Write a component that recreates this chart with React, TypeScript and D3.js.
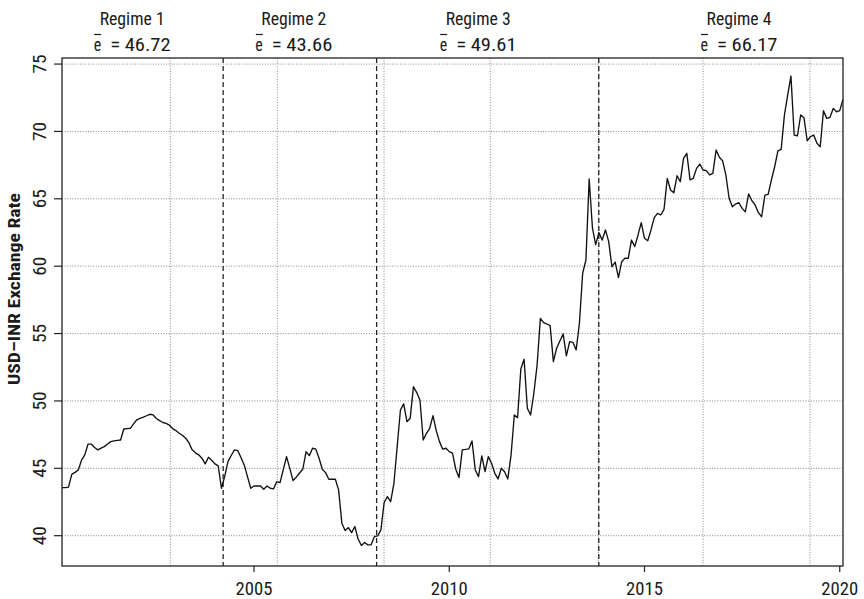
import React from "react";
import * as d3 from "d3";

// Month-end USD-INR exchange rate, monthly from Feb 2000 to Feb 2020
const startYear = 2000;
const startMonth = 2; // February
const usdInr: number[] = [
  43.57, 43.57, 43.6, 44.55, 44.7, 44.88, 45.6, 46.0, 46.8, 46.8, 46.55,
  46.37, 46.5, 46.61, 46.8, 46.98, 47.03, 47.07, 47.1, 47.92, 47.95, 47.97,
  48.3, 48.6, 48.7, 48.79, 48.9, 49.01, 48.96, 48.7, 48.54, 48.4, 48.34,
  48.2, 47.95, 47.8, 47.6, 47.45, 47.23, 46.9, 46.37, 46.15, 46.0, 45.75,
  45.33, 45.82, 45.6, 45.33, 45.18, 43.52, 44.4, 45.5, 45.95, 46.37, 46.31,
  45.8, 45.25, 44.38, 43.52, 43.69, 43.69, 43.69, 43.45, 43.69, 43.52, 43.47,
  44.01, 43.94, 44.9, 45.87, 45.0, 44.09, 44.34, 44.65, 44.93, 46.24, 45.94,
  46.49, 46.42, 45.75, 44.93, 44.68, 44.19, 44.19, 44.19, 43.4, 40.93, 40.38,
  40.6, 40.23, 40.68, 39.75, 39.27, 39.49, 39.32, 39.32, 39.93, 39.98, 40.43,
  42.46, 42.9, 42.53, 43.89, 46.61, 49.33, 49.78, 48.46, 48.72, 51.06, 50.62,
  50.07, 47.1, 47.6, 47.97, 48.91, 47.8, 46.98, 46.42, 46.49, 46.24, 46.12,
  44.93, 44.31, 46.37, 46.4, 46.44, 47.03, 44.88, 44.38, 45.92, 44.75, 45.87,
  45.38, 44.63, 44.21, 45.0, 44.75, 44.21, 46.0, 48.96, 48.76, 52.37, 53.09,
  49.46, 48.96, 50.57, 52.67, 56.13, 55.81, 55.71, 55.59, 52.92, 53.91, 54.45,
  54.97, 53.34, 54.4, 54.35, 53.78, 55.76, 59.47, 60.46, 66.47, 62.85, 61.6,
  62.49, 61.94, 62.69, 61.82, 59.96, 60.3, 59.15, 60.33, 60.6, 60.58, 61.94,
  61.45, 62.3, 63.23, 62.07, 61.89, 62.69, 63.6, 63.92, 63.8, 64.22, 66.52,
  65.65, 65.45, 66.71, 66.27, 68.0, 68.38, 66.4, 66.52, 67.26, 67.58, 67.14,
  67.09, 66.77, 66.89, 68.62, 68.08, 67.83, 66.77, 65.04, 64.41, 64.61, 64.71,
  64.29, 64.04, 65.36, 64.86, 64.54, 63.97, 63.67, 65.28, 65.33, 66.4, 67.38,
  68.55, 68.67, 71.22, 72.7, 74.11, 69.73, 69.68, 71.22, 71.02, 69.31, 69.61,
  69.73, 69.12, 68.87, 71.54, 70.97, 71.05, 71.71, 71.46, 71.54, 72.38,
];

const xTicks = [2005, 2010, 2015, 2020];
const yTicks = [40, 45, 50, 55, 60, 65, 70, 75];
const gridYears = [2002.856, 2005.597, 2008.33, 2011.05, 2013.82, 2016.5, 2019.24];
const regimeBreaks = [2004.21, 2008.14, 2013.83];
const regimeNames = ["Regime 1", "Regime 2", "Regime 3", "Regime 4"];
const regimeMeans = ["46.72", "43.66", "49.61", "66.17"];
const regimeLabelYears = [2001.88, 2006.02, 2010.74, 2017.42];

const W = 864;
const H = 599;
const M = { left: 62, right: 843, top: 58, bottom: 566 };
const FONT = "'Liberation Sans Narrow', 'Roboto Condensed', 'DejaVu Sans Condensed', 'Liberation Sans', sans-serif";
const INK = "#1a1a1a";

export default function App() {
  const t0 = startYear + (startMonth - 1) / 12;
  const times = usdInr.map((_, i) => t0 + i / 12);
  const x = d3.scaleLinear().domain([t0, times[times.length - 1]]).range([M.left, M.right]);
  const y = d3.scaleLinear().domain([37.75, 75.45]).range([M.bottom, M.top]);
  const line = d3
    .line<number>()
    .x((_, i) => x(times[i]))
    .y((d) => y(d));

  return (
    <div style={{ position: "absolute", left: 0, top: 0 }}>
      <svg width={W} height={H} style={{ display: "block", background: "#fff" }} fontFamily={FONT}>
        {/* grid */}
        {yTicks.map((v) => (
          <line key={"gy" + v} x1={M.left} x2={M.right} y1={y(v)} y2={y(v)} stroke="#888" strokeWidth={1} strokeDasharray="1 1.6" />
        ))}
        {gridYears.map((g) => (
          <line key={"gx" + g} x1={x(g)} x2={x(g)} y1={M.top} y2={M.bottom} stroke="#888" strokeWidth={1} strokeDasharray="1 1.6" />
        ))}
        {/* regime breaks */}
        {regimeBreaks.map((b) => (
          <line key={"rb" + b} x1={x(b)} x2={x(b)} y1={M.top} y2={M.bottom} stroke="#222" strokeWidth={1.3} strokeDasharray="5 3" />
        ))}
        {/* series */}
        <path d={line(usdInr) || ""} fill="none" stroke="#111" strokeWidth={1.35} strokeLinejoin="round" />
        {/* box */}
        <rect x={M.left} y={M.top} width={M.right - M.left} height={M.bottom - M.top} fill="none" stroke="#222" strokeWidth={1.3} />
        {/* y axis */}
        {yTicks.map((v) => (
          <g key={"yt" + v}>
            <line x1={M.left - 8} x2={M.left} y1={y(v)} y2={y(v)} stroke="#222" strokeWidth={1.2} />
            <text
              transform={`translate(45.5,${y(v)}) rotate(-90)`}
              textAnchor="middle"
              fontSize={18}
              fill={INK}
              textLength={19}
              lengthAdjust="spacingAndGlyphs"
            >
              {v}
            </text>
          </g>
        ))}
        {/* x axis */}
        {xTicks.map((v) => (
          <g key={"xt" + v}>
            <line x1={x(v)} x2={x(v)} y1={M.bottom} y2={M.bottom + 6} stroke="#222" strokeWidth={1.2} />
            <text x={x(v)} y={595} textAnchor="middle" fontSize={18.5} fill={INK} textLength={37} lengthAdjust="spacingAndGlyphs">
              {v}
            </text>
          </g>
        ))}
        {/* y label */}
        <text
          transform={`translate(20,289) rotate(-90)`}
          textAnchor="middle"
          fontSize={16}
          fontWeight="bold"
          fill={INK}
          textLength={192}
          lengthAdjust="spacingAndGlyphs"
        >
          USD–INR Exchange Rate
        </text>
        {/* regime labels */}
        {regimeNames.map((n, i) => {
          const cx = x(regimeLabelYears[i]);
          const left = cx - 38.5;
          return (
            <g key={n}>
              <text x={cx} y={25} textAnchor="middle" fontSize={17.5} fill={INK} textLength={65} lengthAdjust="spacingAndGlyphs">
                {n}
              </text>
              <line x1={left + 0.5} x2={left + 7.5} y1={34.5} y2={34.5} stroke={INK} strokeWidth={1.2} />
              <text x={left} y={50.5} fontSize={17.5} fill={INK} textLength={7.5} lengthAdjust="spacingAndGlyphs">
                e
              </text>
              <text x={left + 16.5} y={50.5} fontSize={17.5} fill={INK} textLength={10} lengthAdjust="spacingAndGlyphs">
                =
              </text>
              <text x={left + 31} y={50.5} fontSize={17.5} fill={INK} textLength={46} lengthAdjust="spacingAndGlyphs">
                {regimeMeans[i]}
              </text>
            </g>
          );
        })}
      </svg>
    </div>
  );
}
